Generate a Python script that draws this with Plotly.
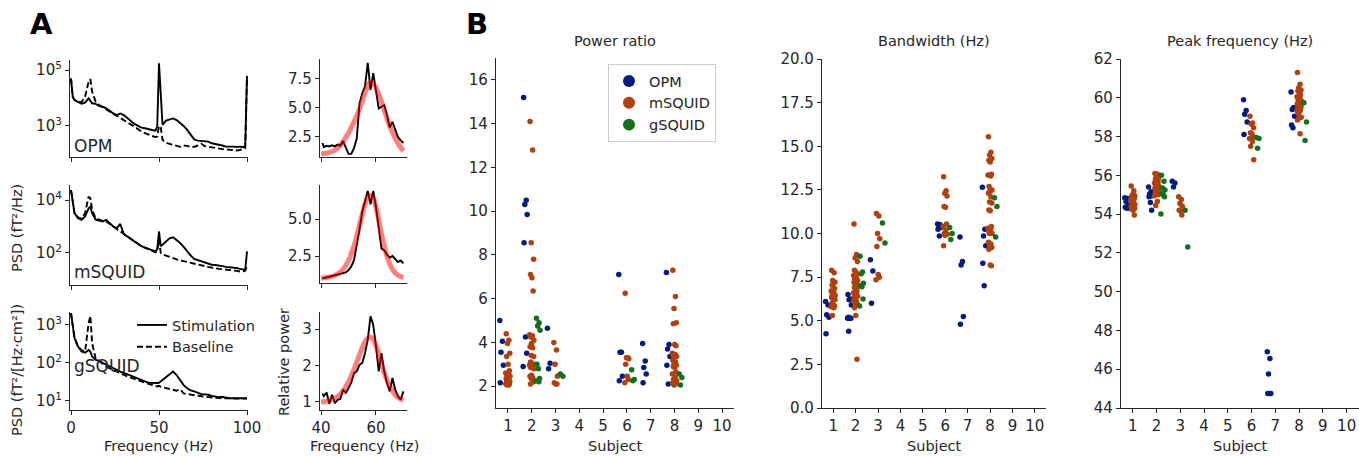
import plotly.graph_objects as go

W, H = 1359, 456
INK = "#262626"
FONT = "DejaVu Sans"

# ---------------- Panel A: power spectra ----------------
FREQ = [0, 1, 2, 4, 6, 8, 10, 11, 12, 14, 16, 18, 20, 22, 24, 26, 28, 30, 32, 34,
        36, 38, 40, 42, 44, 46, 48, 49, 50, 51, 52, 54, 56, 58, 60, 62, 64, 66, 68,
        70, 72, 74, 76, 78, 80, 82, 84, 86, 88, 90, 92, 94, 96, 98, 99, 100]

OPM_STIM = [50000, 11000, 8500, 7400, 6200, 6800, 9800, 7900, 6500, 6200, 5100, 4900,
            4300, 3500, 2800, 2450, 2800, 2450, 1850, 1500, 1180, 1000, 870, 830, 760,
            720, 680, 950, 174000, 8500, 1100, 1550, 1740, 1860, 1620, 1320, 1000, 720,
            480, 330, 300, 295, 280, 275, 240, 230, 210, 200, 182, 186, 182, 178, 182,
            174, 200, 62000]
OPM_BASE = [50000, 11000, 8500, 7400, 7100, 11200, 38000, 47000, 17000, 7400, 5600,
            4700, 4000, 3400, 2800, 2400, 2050, 1700, 1400, 1150, 950, 780, 630, 550,
            480, 440, 400, 420, 1000, 900, 320, 250, 230, 210, 200, 180, 200, 195, 175,
            180, 200, 230, 190, 180, 165, 160, 155, 148, 145, 138, 135, 132, 138, 148,
            160, 60000]
MSQ_STIM = [24000, 8700, 3200, 2050, 1800, 2400, 4900, 5600, 3200, 1800, 1700, 1550,
            1800, 1350, 1000, 870, 1250, 520, 430, 355, 275, 225, 180, 160, 140, 125,
            115, 140, 650, 180, 205, 275, 360, 390, 315, 240, 170, 115, 80, 60, 54, 50,
            45, 40, 36, 35, 34, 32, 30, 29.5, 27.5, 27, 25, 24, 23, 115]
MSQ_BASE = [24000, 8700, 3200, 2200, 2000, 3200, 13500, 11700, 4300, 2050, 1800, 1650,
            1550, 1260, 950, 800, 650, 540, 430, 340, 275, 225, 180, 158, 140, 120, 107,
            112, 320, 100, 87, 80, 71, 63, 56, 52, 49, 46, 43, 40, 36, 34, 32, 29.5,
            27.5, 26, 25, 24.5, 24, 23, 22, 21, 20, 20.5, 21.5, 32]
GSQ_STIM = [2050, 910, 450, 270, 200, 185, 220, 200, 148, 120, 115, 100, 91, 83, 72,
            66, 59, 55, 51, 46, 42, 38, 35.5, 32.5, 30, 29.5, 29, 29.5, 30, 32.5, 35.5,
            42, 51, 59, 48, 35.5, 26, 21.5, 19, 17.8, 16.2, 15.1, 14.8, 14.5, 13.5, 12.9,
            12.6, 12.6, 12, 11.7, 11.7, 11.5, 11.7, 11.7, 11.5, 11.7]
GSQ_BASE = [2050, 910, 450, 270, 215, 200, 1100, 1740, 330, 132, 110, 95, 79, 72, 65,
            59, 52, 49, 44, 41, 37, 35, 32.5, 30, 28, 26.5, 24.5, 24, 25, 23.5, 23, 22,
            20.5, 19.5, 18.6, 20, 15.8, 15.1, 14.5, 14.1, 13.5, 13.2, 12.9, 12.6, 12.3,
            12, 12, 11.7, 11.7, 11.5, 11.5, 11.5, 11.5, 11.5, 11.5, 11.5]

# relative power around the gamma peak
REL_FREQ = [40.5] + list(range(41, 71))
REL_OPM = [1.98, 1.63, 1.75, 1.69, 1.78, 1.69, 1.84, 1.75, 2.15, 1.63, 1.05, 1.05,
           1.57, 2.36, 5.39, 6.26, 6.84, 8.86, 6.55, 7.99, 6.26, 4.96, 5.1, 5.25, 4.38,
           3.31, 3.8, 3.22, 2.5, 2.21, 1.98]
REL_MSQ = [0.99, 1.0, 1.06, 1.1, 1.15, 1.2, 1.22, 1.25, 1.33, 1.4, 1.55, 1.8, 2.23,
           3.2, 4.3, 5.5, 6.3, 6.9, 6.0, 6.9, 5.8, 4.3, 3.0, 2.9, 2.6, 2.4, 2.5, 2.3,
           2.1, 2.2, 2.0]
REL_GSQ = [1.23, 1.16, 1.26, 0.95, 1.2, 0.97, 1.06, 1.08, 1.34, 1.25, 1.38, 1.54,
           1.79, 1.84, 2.02, 2.07, 2.34, 2.71, 3.35, 3.12, 2.53, 1.84, 2.34, 1.84, 1.52,
           1.29, 1.66, 1.34, 1.16, 1.06, 1.29]
FIT_FREQ = [40, 42, 44, 46, 48, 50, 52, 54, 56, 57, 58, 59, 60, 62, 64, 66, 68, 70]
FIT_OPM = [1.05, 1.1, 1.25, 1.55, 2.1, 2.85, 3.8, 4.9, 6.3, 6.9, 7.2, 7.1, 6.7, 5.5,
           4.1, 2.9, 1.95, 1.3]
FIT_MSQ = [1.0, 1.05, 1.12, 1.3, 1.6, 2.2, 3.2, 4.6, 6.0, 6.5, 6.6, 6.4, 5.8, 4.0,
           2.5, 1.6, 1.2, 1.05]
FIT_GSQ = [1.0, 1.02, 1.08, 1.15, 1.3, 1.55, 1.9, 2.3, 2.65, 2.75, 2.78, 2.72, 2.55,
           2.05, 1.6, 1.3, 1.12, 1.05]

# ---------------- Panel B: per-subject fit parameters ----------------
SENSORS = ["OPM", "mSQUID", "gSQUID"]
SENSOR_COLORS = ["#001c7f", "#b1400d", "#12711c"]
SUBJECTS = list(range(1, 11))

# one list per subject (1..10)
power_opm = [[5.0, 4.05, 3.55, 2.95, 2.15],
             [15.2, 10.5, 10.3, 9.85, 8.55, 4.25, 3.5, 2.9],
             [4.65, 3.05, 2.8], [], [],
             [7.1, 3.55, 3.55, 2.45, 2.25],
             [3.95, 3.15, 2.85, 2.55, 2.15],
             [7.2, 3.9, 3.7, 3.35, 2.95, 2.1], [], []]
power_msq = [[4.4, 4.1, 3.95, 3.5, 3.35, 3.0, 2.7, 2.6, 2.55, 2.5, 2.45, 2.4, 2.35, 2.3,
              2.25, 2.2, 2.2, 2.15, 2.1, 2.1, 2.05, 2.05],
             [14.1, 12.8, 8.55, 7.8, 7.1, 6.95, 6.35, 4.35, 4.3, 4.25, 4.1, 3.95, 3.8,
              3.75, 3.4, 3.35, 3.1, 3.05, 3.0, 2.95, 2.9, 2.85, 2.8, 2.5, 2.45, 2.4,
              2.35, 2.2, 2.1],
             [4.0, 3.65, 3.0, 2.45, 2.15, 2.1, 2.1], [], [],
             [6.25, 3.3, 3.3, 3.25, 3.0, 2.45, 2.3, 2.15], [],
             [7.3, 6.1, 5.55, 4.9, 4.85, 3.9, 3.85, 3.5, 3.45, 3.4, 3.35, 3.3, 3.2, 3.1,
              3.05, 2.95, 2.9, 2.85, 2.65, 2.55, 2.4, 2.3, 2.25, 2.2, 2.15, 2.1, 2.05],
             [], []]
power_gsq = [[], [5.1, 4.9, 4.75, 4.55, 3.0, 2.8, 2.35, 2.25, 2.2],
             [2.55, 2.45], [], [], [2.75, 2.3, 2.25], [], [2.55, 2.4, 2.05], [], []]

band_opm = [[6.1, 5.9, 5.35, 5.2, 4.25],
            [6.5, 6.25, 6.2, 5.9, 5.2, 5.15, 5.15, 5.15, 5.15, 4.4],
            [8.5, 7.85, 6.0], [], [],
            [10.55, 10.5, 10.45, 10.35, 10.25, 9.85],
            [9.8, 8.4, 8.2, 5.25, 4.8],
            [12.65, 10.25, 9.85, 9.3, 8.3, 7.0], [], []]
band_msq = [[7.9, 7.75, 7.3, 7.2, 7.05, 6.9, 6.85, 6.7, 6.6, 6.5, 6.45, 6.4, 6.35, 6.3,
             6.25, 6.2, 6.0, 5.9, 5.85, 5.8, 5.75, 5.3],
            [10.55, 8.8, 8.6, 8.4, 7.9, 7.8, 7.7, 7.6, 7.5, 7.4, 7.3, 7.25, 7.2, 7.1,
             7.0, 6.95, 6.9, 6.8, 6.7, 6.6, 6.5, 6.45, 6.4, 6.3, 6.2, 6.1, 6.0, 5.95,
             5.75, 5.3, 2.8],
            [11.15, 11.0, 10.0, 9.7, 9.25, 7.65, 7.5, 7.35], [], [],
            [13.25, 12.45, 12.3, 12.15, 11.55, 11.5, 10.55, 10.4, 10.2, 10.0, 9.95, 9.9,
             9.3], [],
            [15.55, 14.65, 14.5, 14.3, 14.2, 14.1, 13.4, 13.35, 13.3, 12.7, 12.5, 12.4,
             12.3, 12.1, 11.8, 11.75, 11.35, 11.3, 10.4, 10.3, 10.25, 10.05, 10.0, 10.0,
             9.5, 9.4, 9.3, 9.2, 9.1, 8.2, 8.15],
            [], []]
band_gsq = [[], [8.7, 7.8, 7.7, 7.15, 7.0, 6.95, 6.25, 5.85], [10.6, 9.45], [], [],
            [10.35, 10.0, 9.65], [], [12.05, 11.55, 9.8], [], []]

peak_opm = [[54.85, 54.8, 54.65, 54.45, 54.35, 54.3, 54.3],
            [55.4, 55.15, 55.05, 54.95, 54.9, 54.6, 54.2],
            [55.7, 55.6, 55.4], [], [],
            [59.9, 59.35, 59.15, 58.75, 58.1],
            [46.9, 46.55, 45.75, 44.75, 44.75, 44.75],
            [60.3, 59.5, 59.4, 59.05, 58.6, 58.45], [], []]
peak_msq = [[55.45, 55.2, 55.0, 54.95, 54.9, 54.85, 54.8, 54.75, 54.7, 54.6, 54.5,
             54.45, 54.4, 54.35, 54.3, 54.3, 54.25, 54.2, 53.95],
            [56.1, 56.05, 55.95, 55.85, 55.8, 55.7, 55.65, 55.6, 55.55, 55.5, 55.45,
             55.4, 55.35, 55.3, 55.25, 55.2, 55.15, 55.1, 55.0, 54.95, 54.65, 54.45],
            [54.9, 54.75, 54.55, 54.4, 54.2, 54.15, 53.95], [], [],
            [59.05, 58.7, 58.65, 58.45, 58.2, 58.15, 58.0, 57.9, 57.75, 57.5, 56.8], [],
            [61.3, 60.7, 60.5, 60.4, 60.35, 60.3, 60.15, 60.05, 60.0, 59.9, 59.85, 59.8,
             59.7, 59.65, 59.6, 59.55, 59.5, 59.45, 59.4, 59.35, 59.3, 59.2, 59.0, 58.95,
             58.85, 58.15],
            [], []]
peak_gsq = [[], [56.0, 55.7, 55.35, 55.25, 55.05, 55.0, 54.9, 54.0], [54.2, 52.3], [],
            [], [57.95, 57.9, 57.4], [], [59.75, 58.75, 57.8], [], []]


def dom_x(a, b):
    return [a / W, b / W]


def dom_y(top, bottom):
    return [1 - bottom / H, 1 - top / H]


def axis(**kw):
    d = dict(showline=True, linecolor=INK, linewidth=1.25, ticks="outside",
             ticklen=4, tickwidth=1.25, tickcolor=INK, showgrid=False,
             zeroline=False, automargin=False,
             tickfont=dict(size=15, color=INK, family=FONT))
    d.update(kw)
    return d


fig = go.Figure()

# dodge + small fixed jitter pattern for the strip plots
DODGE = [-0.27, 0.0, 0.27]
JIT = [-0.07, 0.04, -0.02, 0.08, -0.05, 0.01, 0.06, -0.09, 0.03, -0.04, 0.09, -0.01]

# --- A left: PSDs ---
psd_rows = [(OPM_STIM, OPM_BASE), (MSQ_STIM, MSQ_BASE), (GSQ_STIM, GSQ_BASE)]
for r, (stim, base) in enumerate(psd_rows):
    ax = r + 1
    last = (r == 2)
    fig.add_trace(go.Scatter(x=FREQ, y=stim, mode="lines", name="Stimulation",
                             line=dict(color="black", width=1.9),
                             xaxis=f"x{ax}", yaxis=f"y{ax}",
                             showlegend=last, legend="legend2", hoverinfo="skip"))
    fig.add_trace(go.Scatter(x=FREQ, y=base, mode="lines", name="Baseline",
                             line=dict(color="black", width=1.9, dash="6px,3px"),
                             xaxis=f"x{ax}", yaxis=f"y{ax}",
                             showlegend=last, legend="legend2", hoverinfo="skip"))

# --- A right: relative power + fit ---
rel_rows = [(REL_OPM, FIT_OPM), (REL_MSQ, FIT_MSQ), (REL_GSQ, FIT_GSQ)]
for r, (rel, fit) in enumerate(rel_rows):
    ax = r + 4
    fig.add_trace(go.Scatter(x=REL_FREQ, y=rel, mode="lines",
                             line=dict(color="black", width=1.9),
                             xaxis=f"x{ax}", yaxis=f"y{ax}", showlegend=False,
                             hoverinfo="skip"))
    fig.add_trace(go.Scatter(x=FIT_FREQ, y=fit, mode="lines",
                             line=dict(color="rgba(255,0,0,0.5)", width=5,
                                       shape="spline"),
                             xaxis=f"x{ax}", yaxis=f"y{ax}", showlegend=False,
                             hoverinfo="skip"))

# --- B: strip plots ---
metrics = [(power_opm, power_msq, power_gsq),
           (band_opm, band_msq, band_gsq),
           (peak_opm, peak_msq, peak_gsq)]
for m, groups in enumerate(metrics):
    ax = m + 7
    for s, per_subject in enumerate(groups):
        xs, ys = [], []
        for subj, vals in zip(SUBJECTS, per_subject):
            for i, v in enumerate(vals):
                xs.append(subj + DODGE[s] + JIT[i % len(JIT)])
                ys.append(v)
        fig.add_trace(go.Scatter(x=xs, y=ys, mode="markers", name=SENSORS[s],
                                 marker=dict(color=SENSOR_COLORS[s], size=5.5,
                                             line=dict(width=0)),
                                 xaxis=f"x{ax}", yaxis=f"y{ax}",
                                 showlegend=(m == 0), legend="legend"))

# ---------------- axes ----------------
lay = {}
left_x = dom_x(70, 248)
right_x = dom_x(320, 407)
rows_y = [dom_y(60, 157), dom_y(185, 285), dom_y(312, 410)]
rows_y_r = [dom_y(59, 157), dom_y(185, 283), dom_y(312, 410)]
log_ranges = [[1.89, 5.36], [0.79, 4.57], [0.76, 3.34]]
log_ticks = [[1e3, 1e5], [1e2, 1e4], [1e1, 1e2, 1e3]]
log_text = [["10<sup>3</sup>", "10<sup>5</sup>"], ["10<sup>2</sup>", "10<sup>4</sup>"],
            ["10<sup>1</sup>", "10<sup>2</sup>", "10<sup>3</sup>"]]
rel_ranges = [[0.78, 9.2], [0.68, 7.3], [0.78, 3.47]]
rel_ticks = [[2.5, 5.0, 7.5], [2.5, 5.0], [1, 2, 3]]
rel_text = [["2.5", "5.0", "7.5"], ["2.5", "5.0"], ["1", "2", "3"]]

for r in range(3):
    a = r + 1
    lay[f"xaxis{a}"] = axis(domain=left_x, range=[-0.57, 100.57], anchor=f"y{a}",
                            tickvals=[0, 50, 100], showticklabels=(r == 2))
    lay[f"yaxis{a}"] = axis(domain=rows_y[r], type="log", range=log_ranges[r],
                            anchor=f"x{a}", tickvals=log_ticks[r],
                            ticktext=log_text[r])
    b = r + 4
    lay[f"xaxis{b}"] = axis(domain=right_x, range=[39.6, 71.3], anchor=f"y{b}",
                            tickvals=[40, 60], showticklabels=(r == 2))
    lay[f"yaxis{b}"] = axis(domain=rows_y_r[r], range=rel_ranges[r], anchor=f"x{b}",
                            tickvals=rel_ticks[r], ticktext=rel_text[r])

b_x = [dom_x(496, 734), dom_x(822, 1046), dom_x(1121, 1358.5)]
b_y = [dom_y(58, 408), dom_y(59, 408), dom_y(59, 408)]
b_range = [[1, 17], [0, 20], [44, 62]]
b_ticks = [list(range(2, 17, 2)), [0, 2.5, 5, 7.5, 10, 12.5, 15, 17.5, 20],
           list(range(44, 63, 2))]
b_text = [[str(v) for v in b_ticks[0]], [f"{v:.1f}" for v in b_ticks[1]],
          [str(v) for v in b_ticks[2]]]
for m in range(3):
    a = m + 7
    lay[f"xaxis{a}"] = axis(domain=b_x[m], range=[0.5, 10.5], anchor=f"y{a}",
                            tickvals=SUBJECTS, ticktext=[str(s) for s in SUBJECTS])
    lay[f"yaxis{a}"] = axis(domain=b_y[m], range=b_range[m], anchor=f"x{a}",
                            tickvals=b_ticks[m], ticktext=b_text[m])

fig.update_layout(**lay)


# ---------------- text ----------------
def note(text, x, y, size=14.5, angle=0, xanchor="center", bold=False):
    fig.add_annotation(text=f"<b>{text}</b>" if bold else text,
                       x=x / W, y=1 - y / H, xref="paper", yref="paper",
                       showarrow=False, textangle=angle, xanchor=xanchor,
                       yanchor="middle",
                       font=dict(size=size, color="black" if bold else INK,
                                 family=FONT))


note("A", 41, 24, size=29, bold=True)
note("B", 477, 24, size=29, bold=True)
note("OPM", 72, 146, size=17, xanchor="left")
note("mSQUID", 72, 272, size=17, xanchor="left")
note("gSQUID", 72, 366, size=17, xanchor="left")
note("PSD (fT²/Hz)", 17, 228, angle=-90)
note("PSD (fT²/[Hz·cm²])", 17, 370, angle=-90)
note("Relative power", 284, 362, angle=-90)
note("Frequency (Hz)", 158, 446)
note("Frequency (Hz)", 364, 446)
for cx, title in zip([615, 934, 1240], ["Power ratio", "Bandwidth (Hz)",
                                         "Peak frequency (Hz)"]):
    note(title, cx, 41)
    note("Subject", cx, 446)

fig.update_layout(
    width=W, height=H,
    margin=dict(l=0, r=0, t=0, b=0, pad=0, autoexpand=False),
    paper_bgcolor="white", plot_bgcolor="white",
    font=dict(family=FONT, size=14, color=INK),
    legend=dict(x=608 / W, y=1 - 64 / H, xanchor="left", yanchor="top",
                bordercolor="#cccccc", borderwidth=1, bgcolor="rgba(255,255,255,0.8)",
                itemsizing="constant", font=dict(size=14.5, color=INK)),
    legend2=dict(x=132 / W, y=1 - 309 / H, xanchor="left", yanchor="top",
                 bgcolor="rgba(0,0,0,0)", borderwidth=0,
                 font=dict(size=14.5, color=INK)),
)

fig.write_html("out.html", config={"displayModeBar": False},
               post_script="document.body.style.margin='0px';")
